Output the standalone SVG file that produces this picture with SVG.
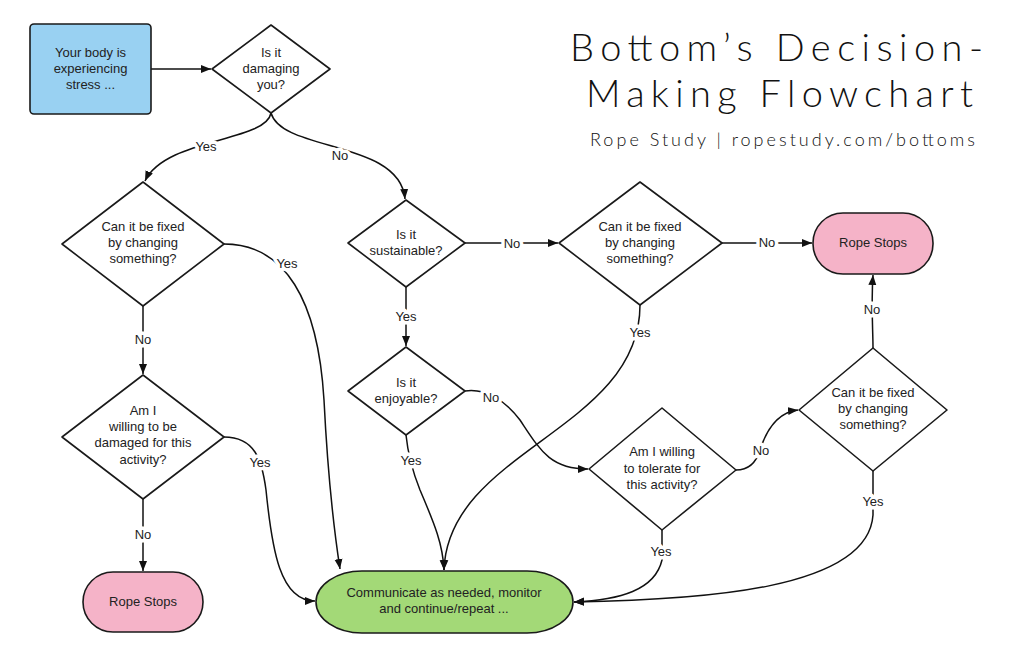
<svg xmlns="http://www.w3.org/2000/svg" width="1024" height="663" viewBox="0 0 1024 663">
<style>
.shape{stroke:#1a1a1a;stroke-width:1.6;}
.dia{fill:#fff;stroke:#1a1a1a;stroke-width:1.6;stroke-linejoin:round;}
.t{font-family:"Liberation Sans",Arial,sans-serif;font-size:13px;fill:#222;text-anchor:middle;}
.lbl{font-family:"Liberation Sans",Arial,sans-serif;font-size:13px;fill:#222;text-anchor:middle;paint-order:stroke;stroke:#fff;stroke-width:7px;stroke-linejoin:round;}
.c{fill:none;stroke:#111;stroke-width:1.5;marker-end:url(#ah);}
.title{font-family:Lato,"Open Sans",sans-serif;font-weight:300;fill:#111;}
</style>
<defs>
<marker id="ah" viewBox="0 0 10 10" refX="10" refY="5" markerWidth="10" markerHeight="10" markerUnits="userSpaceOnUse" orient="auto">
<path d="M0,1 L10,5 L0,9 z" fill="#111"/>
</marker>
</defs>
<rect width="1024" height="663" fill="#fff"/>

<g id="title">
<text class="title" x="570" y="61" font-size="38" textLength="413" lengthAdjust="spacing">Bottom’s Decision-</text>
<text class="title" x="586" y="107" font-size="38" textLength="387" lengthAdjust="spacing">Making Flowchart</text>
<text class="title" x="590" y="146" font-size="18" textLength="385" lengthAdjust="spacing">Rope Study | ropestudy.com/bottoms</text>
</g>

<g id="connectors">
<path class="c" d="M151,69 L211,69"/>
<path class="c" d="M271,113 C266,142 165,138 145,181"/>
<path class="c" d="M271,113 C282,152 400,140 405,199"/>
<path class="c" d="M143,306 L143,374"/>
<path class="c" d="M224,244 C285,244 318,300 324,400 C328,480 334,530 340,569"/>
<path class="c" d="M224,437 C255,437 262,460 266,490 C272,550 280,601 315,601"/>
<path class="c" d="M143,499 L143,571"/>
<path class="c" d="M465,243 L558,243"/>
<path class="c" d="M722,243 L812,243"/>
<path class="c" d="M406,287 L406,346"/>
<path class="c" d="M465,391 C485,388 505,400 520,420 C540,450 550,469 588,469"/>
<path class="c" d="M406,435 C408,455 412,470 420,490 C435,525 443,545 444,570"/>
<path class="c" d="M640,305 C640,430 448,450 444,570"/>
<path class="c" d="M736,470 C750,470 757,460 760,450 C768,425 780,412 798,410"/>
<path class="c" d="M873,348 C873,330 871,305 873,275"/>
<path class="c" d="M873,471 L873,515 C868,590 700,600 574,602"/>
<path class="c" d="M662,530 L662,560 C655,590 620,600 574,602"/>
<text class="lbl" x="206" y="151">Yes</text>
<text class="lbl" x="340" y="160">No</text>
<text class="lbl" x="143" y="344">No</text>
<text class="lbl" x="287" y="268">Yes</text>
<text class="lbl" x="260" y="467">Yes</text>
<text class="lbl" x="143" y="539">No</text>
<text class="lbl" x="512" y="248">No</text>
<text class="lbl" x="767" y="247">No</text>
<text class="lbl" x="406" y="321">Yes</text>
<text class="lbl" x="491" y="402">No</text>
<text class="lbl" x="411" y="465">Yes</text>
<text class="lbl" x="640" y="337">Yes</text>
<text class="lbl" x="761" y="455">No</text>
<text class="lbl" x="872" y="314">No</text>
<text class="lbl" x="873" y="506">Yes</text>
<text class="lbl" x="661" y="556">Yes</text>
</g>

<g id="start">
<rect class="shape" x="30" y="24" width="121" height="90" rx="4" fill="#99D1F2"/>
<text class="t" x="90.5" y="57">Your body is</text>
<text class="t" x="90.5" y="73">experiencing</text>
<text class="t" x="90.5" y="89">stress ...</text>
</g>

<g id="q-damaging">
<polygon class="dia" points="271,25 330,69 271,113 212,69"/>
<text class="t" x="271" y="57">Is it</text>
<text class="t" x="271" y="73">damaging</text>
<text class="t" x="271" y="89">you?</text>
</g>

<g id="q-fixed-1">
<polygon class="dia" points="143,182 224,244 143,306 62,244"/>
<text class="t" x="143" y="231">Can it be fixed</text>
<text class="t" x="143" y="247">by changing</text>
<text class="t" x="143" y="263">something?</text>
</g>

<g id="q-willing-damaged">
<polygon class="dia" points="143,375 224,437 143,499 62,437"/>
<text class="t" x="143" y="415">Am I</text>
<text class="t" x="143" y="431">willing to be</text>
<text class="t" x="143" y="447">damaged for this</text>
<text class="t" x="143" y="464">activity?</text>
</g>

<g id="stop-1">
<rect class="shape" x="83" y="572" width="120" height="60" rx="30" fill="#F5B3C8"/>
<text class="t" x="143" y="606">Rope Stops</text>
</g>

<g id="q-sustainable">
<polygon class="dia" points="406,200 465,243 406,287 348,243"/>
<text class="t" x="406" y="239">Is it</text>
<text class="t" x="406" y="255">sustainable?</text>
</g>

<g id="q-fixed-2">
<polygon class="dia" points="640,182 722,243 640,305 559,243"/>
<text class="t" x="640" y="231">Can it be fixed</text>
<text class="t" x="640" y="247">by changing</text>
<text class="t" x="640" y="263">something?</text>
</g>

<g id="stop-2">
<rect class="shape" x="813" y="213" width="120" height="61" rx="30" fill="#F5B3C8"/>
<text class="t" x="873" y="247">Rope Stops</text>
</g>

<g id="q-enjoyable">
<polygon class="dia" points="406,347 465,391 406,435 348,391"/>
<text class="t" x="406" y="387">Is it</text>
<text class="t" x="406" y="403">enjoyable?</text>
</g>

<g id="q-tolerate">
<polygon class="dia" points="662,408 736,470 662,530 589,469"/>
<text class="t" x="662" y="456">Am I willing</text>
<text class="t" x="662" y="473">to tolerate for</text>
<text class="t" x="662" y="489">this activity?</text>
</g>

<g id="q-fixed-3">
<polygon class="dia" points="873,348 947,410 873,471 799,410"/>
<text class="t" x="873" y="397">Can it be fixed</text>
<text class="t" x="873" y="413">by changing</text>
<text class="t" x="873" y="429">something?</text>
</g>

<g id="communicate">
<rect class="shape" x="316" y="571" width="257" height="62" rx="46" ry="31" fill="#A3D977"/>
<text class="t" x="444" y="597">Communicate as needed, monitor</text>
<text class="t" x="444" y="613">and continue/repeat ...</text>
</g>
</svg>
